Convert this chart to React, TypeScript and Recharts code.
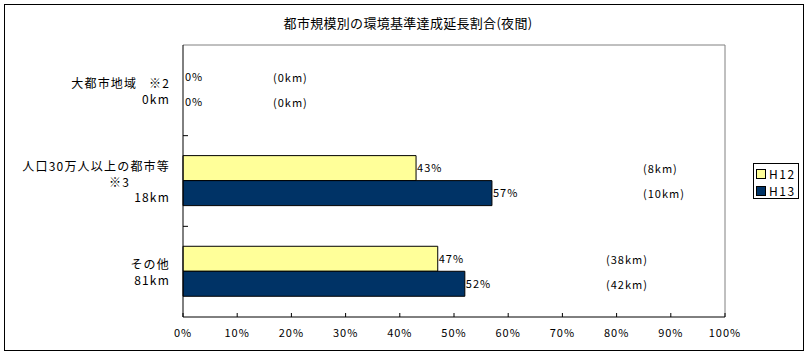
import { BarChart, Bar, XAxis, YAxis, LabelList, Legend, ReferenceLine, Cell } from 'recharts';

const CATEGORIES = ['大都市地域', '人口30万人以上の都市等', 'その他'];
const CATEGORY_LINES = [
  ['大都市地域\u00A0\u00A0\u00A0※2', '0km'],
  ['人口30万人以上の都市等', '※3', '18km'],
  ['その他', '81km'],
];
const H12_PCT = [0, 43, 47];
const H13_PCT = [0, 57, 52];
const H12_KM = [0, 8, 38];
const H13_KM = [0, 10, 42];
const X_TICKS = [0, 10, 20, 30, 40, 50, 60, 70, 80, 90, 100];

const YELLOW = '#FFFF99';
const NAVY = '#003366';
const FONT = "'Noto Sans CJK JP', 'Noto Sans CJK SC', sans-serif";

const Y_TICK_SIZE = 6;
const Y_TICK_MARGIN = 7;

// km labels sit at fixed spots in the plot (text boxes in the original)
const KM_LABEL_X = [90, 460, 423];

const data = CATEGORIES.map((name, i) => ({
  name,
  H12: H12_PCT[i],
  H13: H13_PCT[i],
}));

function CategoryTick(props: any) {
  const { x, y, payload } = props;
  const idx = CATEGORIES.indexOf(payload.value);
  const lines = CATEGORY_LINES[idx] || [];
  const step = 15.5;
  const half = payload.offset || 45.3;
  const axisX = x + Y_TICK_SIZE + Y_TICK_MARGIN;
  return (
    <g>
      {idx < CATEGORIES.length - 1 && (
        <line x1={axisX} x2={axisX + 5} y1={y + half} y2={y + half} stroke="#000" />
      )}
      {lines.map((line, i) => (
        <text
          key={i}
          x={line === '※3' ? x - 40 : x}
          y={y + (i - (lines.length - 1) / 2) * step}
          textAnchor="end"
          dominantBaseline="central"
          fontSize={12}
          letterSpacing={1.2}
          fill="#000"
          fontFamily={FONT}
        >
          {line}
        </text>
      ))}
    </g>
  );
}

const kmLabel = (kms: number[]) => (props: any) => {
  const vb = props.viewBox || props;
  const i = props.index;
  return (
    <text
      x={vb.x + KM_LABEL_X[i]}
      y={vb.y + vb.height / 2}
      dominantBaseline="central"
      fontSize={11}
      letterSpacing={1}
      fill="#000"
      fontFamily={FONT}
    >
      ({kms[i]}km)
    </text>
  );
};

function LegendBox() {
  const row = (label: string, color: string) => (
    <div style={{ display: 'flex', alignItems: 'center', height: 17 }}>
      <div
        style={{
          width: 8,
          height: 8,
          background: color,
          border: '1px solid #000',
          marginRight: 3,
          marginLeft: 2,
        }}
      />
      <span style={{ fontSize: 12, letterSpacing: 1.5, lineHeight: '17px' }}>{label}</span>
    </div>
  );
  return (
    <div
      style={{
        width: 46,
        height: 36,
        border: '1px solid #000',
        background: '#fff',
        boxSizing: 'border-box',
        paddingTop: 1,
        fontFamily: FONT,
        color: '#000',
      }}
    >
      {row('H12', YELLOW)}
      {row('H13', NAVY)}
    </div>
  );
}

export default function App() {
  return (
    <div style={{ position: 'absolute', left: 0, top: 0, width: 808, height: 357, background: '#fff' }}>
      <div
        style={{
          position: 'absolute',
          left: 4,
          top: 4,
          width: 800,
          height: 347,
          border: '1px solid #000',
          boxSizing: 'border-box',
        }}
      />
      <div
        style={{
          position: 'absolute',
          left: 6,
          top: 13,
          width: 804,
          textAlign: 'center',
          fontSize: 13,
          letterSpacing: 0.3,
          fontFamily: FONT,
          color: '#000',
        }}
      >
        都市規模別の環境基準達成延長割合(夜間)
      </div>
      <div style={{ position: 'absolute', left: 0, top: 0 }}>
        <BarChart
          width={808}
          height={357}
          data={data}
          layout="vertical"
          margin={{ top: 45, right: 83, bottom: 10, left: 0 }}
          barCategoryGap="22%"
          barGap={0}
        >
          <XAxis
            type="number"
            domain={[0, 100]}
            ticks={X_TICKS}
            tickFormatter={(v) => `${v}%`}
            height={30}
            tickSize={-4}
            tickMargin={16}
            axisLine={{ stroke: '#000' }}
            tickLine={{ stroke: '#000' }}
            tick={{ fontSize: 11, fill: '#000', fontFamily: FONT, letterSpacing: 1 }}
          />
          <YAxis
            type="category"
            dataKey="name"
            width={183}
            tickLine={false}
            tickSize={Y_TICK_SIZE}
            tickMargin={Y_TICK_MARGIN}
            axisLine={{ stroke: '#000' }}
            tick={<CategoryTick />}
          />
          <ReferenceLine x={100} stroke="#808080" />
          <ReferenceLine y={CATEGORIES[0]} position="start" stroke="#808080" />
          <Legend
            layout="vertical"
            align="center"
            verticalAlign="middle"
            wrapperStyle={{ left: 753, top: 163, width: 46, height: 36 }}
            content={() => <LegendBox />}
          />
          <Bar dataKey="H12" minPointSize={1} isAnimationActive={false}>
            {H12_PCT.map((v, i) => (
              <Cell key={i} fill={v === 0 ? 'none' : YELLOW} stroke={v === 0 ? 'none' : '#000'} />
            ))}
            <LabelList
              dataKey="H12"
              position="right"
              offset={1}
              formatter={(v: any) => `${v}%`}
              style={{ fontSize: 11, fill: '#000', fontFamily: FONT, letterSpacing: 1 }}
            />
            <LabelList dataKey="H12" content={kmLabel(H12_KM)} />
          </Bar>
          <Bar dataKey="H13" minPointSize={1} isAnimationActive={false}>
            {H13_PCT.map((v, i) => (
              <Cell key={i} fill={v === 0 ? 'none' : NAVY} stroke={v === 0 ? 'none' : '#000'} />
            ))}
            <LabelList
              dataKey="H13"
              position="right"
              offset={1}
              formatter={(v: any) => `${v}%`}
              style={{ fontSize: 11, fill: '#000', fontFamily: FONT, letterSpacing: 1 }}
            />
            <LabelList dataKey="H13" content={kmLabel(H13_KM)} />
          </Bar>
        </BarChart>
      </div>
    </div>
  );
}
